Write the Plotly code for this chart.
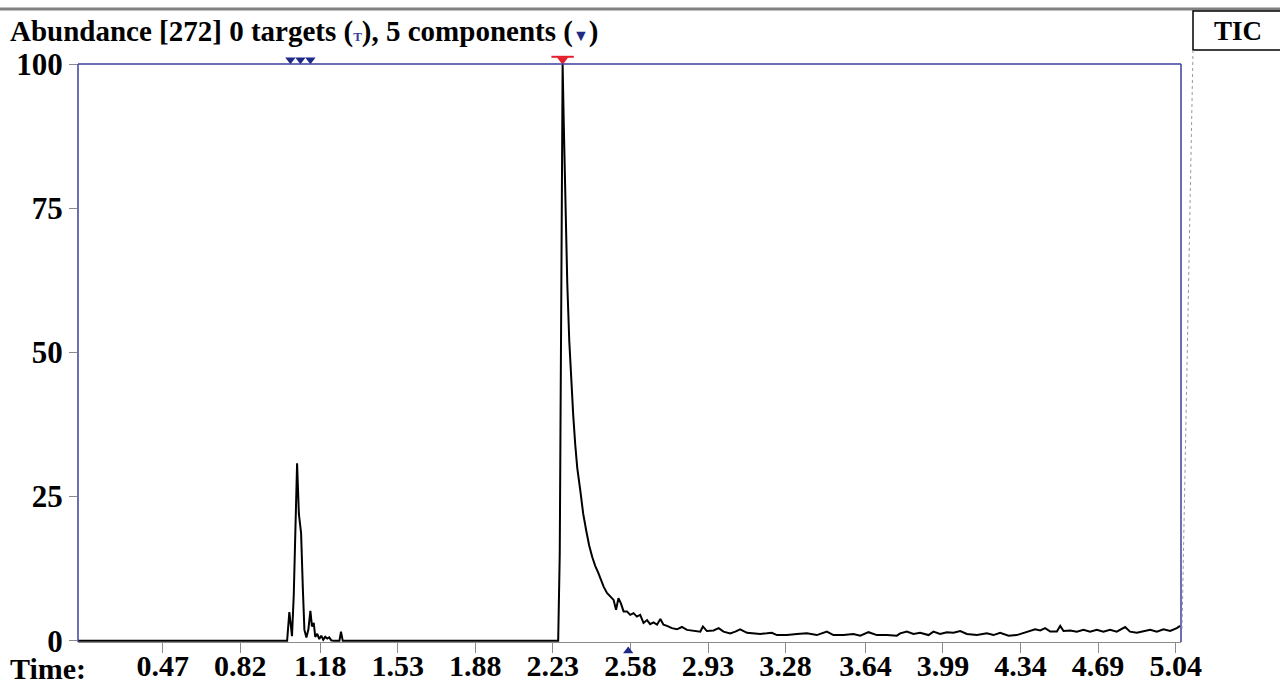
import plotly.graph_objects as go

# ---- data ----
time_min = [
    0.088, 1.031, 1.041, 1.053, 1.061, 1.068, 1.076, 1.084, 1.094, 1.102, 1.109, 1.118, 1.127,
    1.136, 1.143, 1.151, 1.158, 1.167, 1.176, 1.185, 1.194, 1.203, 1.212, 1.221, 1.230, 1.240,
    1.267, 1.274, 1.282, 2.254, 2.261, 2.268, 2.274, 2.279, 2.286, 2.295, 2.304, 2.313, 2.322,
    2.331, 2.340, 2.354, 2.367, 2.381, 2.394, 2.408, 2.421, 2.435, 2.444, 2.459, 2.474, 2.489,
    2.504, 2.515, 2.526, 2.537, 2.549, 2.564, 2.579, 2.594, 2.609, 2.624, 2.639, 2.655, 2.669,
    2.684, 2.700, 2.715, 2.729, 2.745, 2.767, 2.790, 2.812, 2.835, 2.865, 2.895, 2.907, 2.925,
    2.955, 2.978, 3.000, 3.030, 3.053, 3.075, 3.106, 3.135, 3.166, 3.196, 3.218, 3.241, 3.286,
    3.331, 3.376, 3.421, 3.466, 3.496, 3.541, 3.586, 3.617, 3.654, 3.692, 3.737, 3.782, 3.797,
    3.827, 3.857, 3.887, 3.925, 3.947, 3.977, 4.008, 4.037, 4.068, 4.098, 4.143, 4.188, 4.218,
    4.248, 4.286, 4.323, 4.353, 4.383, 4.406, 4.429, 4.451, 4.474, 4.504, 4.519, 4.534, 4.564,
    4.594, 4.624, 4.654, 4.684, 4.714, 4.744, 4.774, 4.812, 4.834, 4.865, 4.894, 4.925, 4.955,
    4.985, 5.015, 5.045, 5.060,
]
abundance = [
    0.0, 0.0, 5.0, 0.8, 8.0, 20.0, 30.8, 22.0, 18.7, 9.0, 1.9, 0.6, 2.0,
    5.2, 2.5, 3.1, 0.7, 1.2, 0.3, 0.9, 0.2, 0.7, 0.4, 0.6, 0.1, 0.0,
    0.0, 1.6, 0.0, 0.0, 15.0, 60.0, 100.0, 90.0, 75.0, 62.0, 52.0, 45.0, 39.0,
    34.0, 30.0, 26.0, 22.0, 19.0, 16.5, 14.5, 13.0, 11.8, 10.9, 9.4, 8.3, 7.7,
    7.1, 5.4, 7.4, 6.5, 5.1, 5.1, 4.5, 4.8, 4.2, 4.5, 3.1, 3.6, 2.9,
    3.2, 2.8, 3.8, 2.8, 2.6, 2.2, 2.0, 2.4, 1.9, 1.8, 1.6, 2.5, 1.7,
    1.8, 2.2, 1.6, 1.3, 1.6, 2.0, 1.4, 1.3, 1.2, 1.3, 1.4, 1.0, 1.0,
    1.2, 1.3, 1.0, 1.6, 1.0, 1.0, 1.2, 0.9, 1.5, 1.0, 1.0, 0.9, 1.3,
    1.6, 1.2, 1.4, 1.0, 1.6, 1.2, 1.5, 1.4, 1.7, 1.2, 1.0, 1.3, 1.0,
    1.4, 0.9, 1.0, 1.4, 1.8, 2.0, 1.8, 2.2, 1.6, 1.6, 2.6, 1.7, 1.8,
    1.6, 1.9, 1.6, 1.9, 1.6, 1.9, 1.6, 2.4, 1.6, 1.4, 1.7, 1.9, 1.6,
    2.0, 1.7, 2.2, 2.6,
]

tick_labels = ["0.47", "0.82", "1.18", "1.53", "1.88", "2.23", "2.58",
               "2.93", "3.28", "3.64", "3.99", "4.34", "4.69", "5.04"]
y_ticks = [0, 25, 50, 75, 100]

top_components = [1.046, 1.091, 1.136]   # blue markers at the top
main_component = [2.274]                  # red marker
bottom_components = [2.570]               # blue marker below the axis

FONT = "Liberation Serif, Times New Roman, serif"
BLUE = "#3c3ca0"
NAVY = "#1f2a86"
RED = "#e3202b"

# page geometry (pixels)
W, H = 1280, 686
L, R, T, B = 78, 1181, 40, 660        # outer plotting space (for marker overlay)
FT, FB = 64, 642                      # drawn frame top / bottom
X_RANGE = [0.0875, 5.064]
Y_RANGE = [-0.2, 100.0]
ppu = (FB - FT) / (Y_RANGE[1] - Y_RANGE[0])


def px(x):
    return (x - L) / (R - L)


def py(y):
    return (B - y) / (B - T)


# overlay axis range so that values map to the same pixels as the main axis
y2_range = [Y_RANGE[0] - (B - FB) / ppu, Y_RANGE[1] + (FT - T) / ppu]

fig = go.Figure()
fig.add_trace(go.Scatter(x=time_min, y=abundance, mode="lines",
                         line=dict(color="black", width=2), hoverinfo="skip"))
fig.add_trace(go.Scatter(x=top_components, y=[100.75] * len(top_components), mode="markers",
                         xaxis="x2", yaxis="y2",
                         marker=dict(symbol="triangle-down", size=9, color=NAVY),
                         cliponaxis=False, hoverinfo="skip"))
fig.add_trace(go.Scatter(x=main_component, y=[101.25], mode="markers",
                         xaxis="x2", yaxis="y2",
                         marker=dict(symbol="line-ew", size=16, line=dict(color=RED, width=2)),
                         cliponaxis=False, hoverinfo="skip"))
fig.add_trace(go.Scatter(x=main_component, y=[100.75], mode="markers",
                         xaxis="x2", yaxis="y2",
                         marker=dict(symbol="triangle-down", size=10, color=RED),
                         cliponaxis=False, hoverinfo="skip"))
fig.add_trace(go.Scatter(x=bottom_components, y=[-1.75], mode="markers",
                         xaxis="x2", yaxis="y2",
                         marker=dict(symbol="triangle-up", size=9, color=NAVY),
                         cliponaxis=False, hoverinfo="skip"))

fig.update_layout(
    width=W, height=H,
    margin=dict(l=L, r=W - R, t=T, b=H - B, autoexpand=False),
    paper_bgcolor="white", plot_bgcolor="rgba(0,0,0,0)",
    showlegend=False,
    font=dict(family=FONT, color="black"),
    xaxis=dict(range=X_RANGE, domain=[0, 1], anchor="y",
               tickvals=[float(s) for s in tick_labels],
               ticktext=[f"<b>{s}</b>" for s in tick_labels],
               ticks="outside", ticklen=10, tickcolor="#8a8a8a", tickwidth=1,
               ticklabelstandoff=-13,
               showgrid=False, zeroline=False, showline=True, linecolor="#8a8a8a", linewidth=1,
               automargin=False,
               tickfont=dict(family=FONT, size=30, color="black"), fixedrange=True),
    yaxis=dict(range=Y_RANGE, domain=[py(FB), py(FT)], anchor="x",
               tickvals=y_ticks, ticktext=[f"<b>{v}</b>" for v in y_ticks],
               ticks="outside", ticklen=8, tickcolor="#8a8a8a", tickwidth=1,
               showgrid=False, zeroline=False, showline=False, automargin=False,
               tickfont=dict(family=FONT, size=31, color="black"), fixedrange=True),
    xaxis2=dict(range=X_RANGE, domain=[0, 1], anchor="y2", visible=False, fixedrange=True),
    yaxis2=dict(range=y2_range, domain=[0, 1], anchor="x2", visible=False, fixedrange=True),
)

fig.update_layout(shapes=[
    # top gray rule across the page
    dict(type="line", xref="paper", yref="paper", x0=px(0), x1=px(1280), y0=py(9), y1=py(9),
         line=dict(color="#808080", width=3)),
    # blue frame: left, top, right
    dict(type="line", xref="paper", yref="paper", x0=0, x1=0, y0=py(FB), y1=py(FT),
         line=dict(color=BLUE, width=1.5)),
    dict(type="line", xref="paper", yref="paper", x0=0, x1=1, y0=py(FT), y1=py(FT),
         line=dict(color=BLUE, width=1.5)),
    dict(type="line", xref="paper", yref="paper", x0=1, x1=1, y0=py(FB), y1=py(FT),
         line=dict(color=BLUE, width=1.5)),
    # TIC box
    dict(type="rect", xref="paper", yref="paper", x0=px(1193), x1=px(1282), y0=py(50), y1=py(11),
         line=dict(color="black", width=1.5), fillcolor="white"),
    # dotted connector
    dict(type="line", xref="paper", yref="paper", x0=px(1193), x1=px(1182), y0=py(50), y1=py(630),
         line=dict(color="#9a9a9a", width=1, dash="dot")),
])

fig.add_annotation(xref="paper", yref="paper", x=px(8), y=py(32), xanchor="left", yanchor="middle",
                   text="<b>Abundance [272] 0 targets (<span style='color:#3c3ca0;font-size:13px'>T</span>), "
                        "5 components (<span style='color:#1f2a86;font-size:16px'>▼</span>)</b>",
                   showarrow=False, font=dict(family=FONT, size=29, color="black"))
fig.add_annotation(xref="paper", yref="paper", x=px(1238), y=py(31), xanchor="center", yanchor="middle",
                   text="<b>TIC</b>", showarrow=False, font=dict(family=FONT, size=27, color="black"))
fig.add_annotation(xref="paper", yref="paper", x=px(8), y=py(668), xanchor="left", yanchor="middle",
                   text="<b>Time:</b>", showarrow=False, font=dict(family=FONT, size=30, color="black"))

fig.write_html("out.html")
